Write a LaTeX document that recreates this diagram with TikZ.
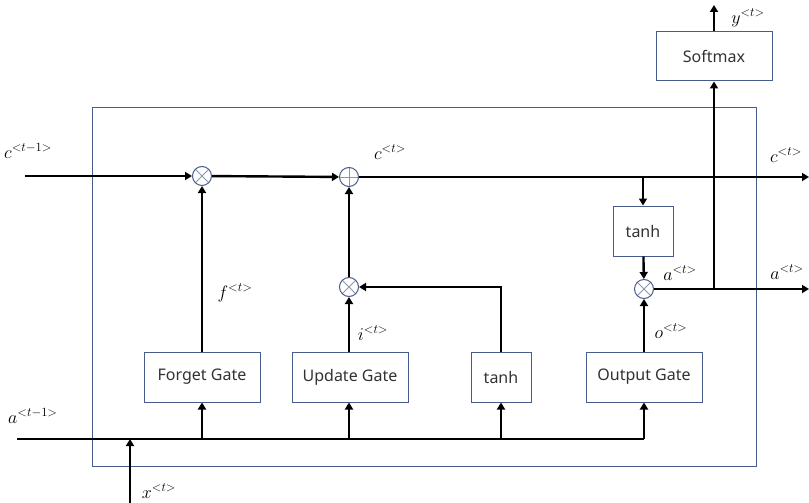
\RequirePackage{fix-cm}
\documentclass[tikz,border=0pt]{standalone}
\usepackage{fontspec}
\setmainfont{Noto Sans}
\usetikzlibrary{arrows.meta}
\definecolor{boxc}{RGB}{72,92,140}
\definecolor{crossc}{RGB}{140,150,175}
\definecolor{txtc}{RGB}{50,50,50}
\tikzset{
  gatebox/.style={draw=boxc, line width=1pt, minimum width=116pt, minimum height=50pt, inner sep=0pt, text=txtc, font=\fontsize{16}{18}\selectfont},
  opnode/.style={circle, draw=boxc, line width=1pt, minimum size=19pt, inner sep=0pt, fill=white},
  timesop/.style={opnode, path picture={\draw[crossc, line width=0.8pt] (path picture bounding box.center) ++(-6.7pt,-6.7pt) -- ++(13.4pt,13.4pt); \draw[crossc, line width=0.8pt] (path picture bounding box.center) ++(-6.7pt,6.7pt) -- ++(13.4pt,-13.4pt);}},
  plusop/.style={opnode, path picture={\draw[crossc, line width=0.8pt] (path picture bounding box.center) ++(-9.5pt,0) -- ++(19pt,0); \draw[crossc, line width=0.8pt] (path picture bounding box.center) ++(0,-9.5pt) -- ++(0,19pt);}},
  wire/.style={line width=2.4pt, line join=miter, -{Triangle[length=7pt,width=8pt]}},
  plainwire/.style={line width=2.4pt, line join=miter},
  lbl/.style={font=\fontsize{18}{21}\selectfont, inner sep=0pt}
}
\begin{document}
\begin{tikzpicture}[x=1pt,y=-1pt]
\useasboundingbox (0,0) rectangle (809,503);
% outer cell box
\draw[boxc, line width=1pt] (92,107) rectangle (756,466);

% operators
\node[timesop] (fx) at (202,176) {};
\node[plusop] (pl) at (349,177) {};
\node[timesop] (ux) at (349,287) {};
\node[timesop] (ox) at (644,289) {};

% boxes
\node[gatebox] (fg) at (202,377) {Forget Gate};
\node[gatebox] (ug) at (350,377) {Update Gate};
\node[gatebox, minimum width=60pt] (th) at (501,377) {tanh};
\node[gatebox] (og) at (644,377) {Output Gate};
\node[gatebox, minimum width=60pt] (thc) at (643,231) {tanh};
\node[gatebox, minimum height=49pt] (sm) at (714,56.5) {Softmax};

% free ends and junctions
\coordinate (cin) at (25,176);
\coordinate (cout) at (809,177);
\coordinate (ain) at (17,439);
\coordinate (aout) at (809,289);
\coordinate (xin) at (130,503);
\coordinate (xj) at (130,439);
\coordinate (yout) at (714,5);
\coordinate (cj) at (643,177);
\coordinate (aj) at (714,289);
\coordinate (bf) at (202,439);
\coordinate (bu) at (349,439);
\coordinate (bt) at (501,439);
\coordinate (bo) at (644,439);

% cell state line
\draw[wire] (cin) -- (fx);
\draw[wire] (fx) -- (pl);
\draw[wire] (pl) -- (cout);
\draw[wire] (cj) -- (thc);
\draw[wire] (thc) -- (ox);

% hidden state out
\draw[wire] (ox) -- (aout);
\draw[wire] (aj) -- (sm);
\draw[wire] (sm) -- (yout);

% bottom input bus
\draw[plainwire] (ain) -- (bo);
\draw[wire] (bo) -- (og);
\draw[wire] (bf) -- (fg);
\draw[wire] (bu) -- (ug.south -| bu);
\draw[wire] (bt) -- (th);
\draw[wire] (xin) -- (xj);

% gate outputs
\draw[wire] (fg) -- (fx);
\draw[wire] (ug.north -| bu) -- (ux);
\draw[wire] (ux) -- (pl);
\draw[wire] (th) |- (ux);
\draw[wire] (og) -- (ox);

% labels
\node[lbl, anchor=west] (lc0) at (4,151) {$c^{<t-1>}$};
\node[lbl] (lc1) at (390,152) {$c^{<t>}$};
\node[lbl] (lc2) at (786,155) {$c^{<t>}$};
\node[lbl] (la1) at (680,273) {$a^{<t>}$};
\node[lbl] (la2) at (787,272) {$a^{<t>}$};
\node[lbl] (lf) at (235,293) {$f^{<t>}$};
\node[lbl] (li) at (373,333) {$i^{<t>}$};
\node[lbl] (lo) at (671,331) {$o^{<t>}$};
\node[lbl, anchor=west] (la0) at (8,416) {$a^{<t-1>}$};
\node[lbl] (lx) at (159,491) {$x^{<t>}$};
\node[lbl] (ly) at (748,18) {$y^{<t>}$};
\end{tikzpicture}
\end{document}
